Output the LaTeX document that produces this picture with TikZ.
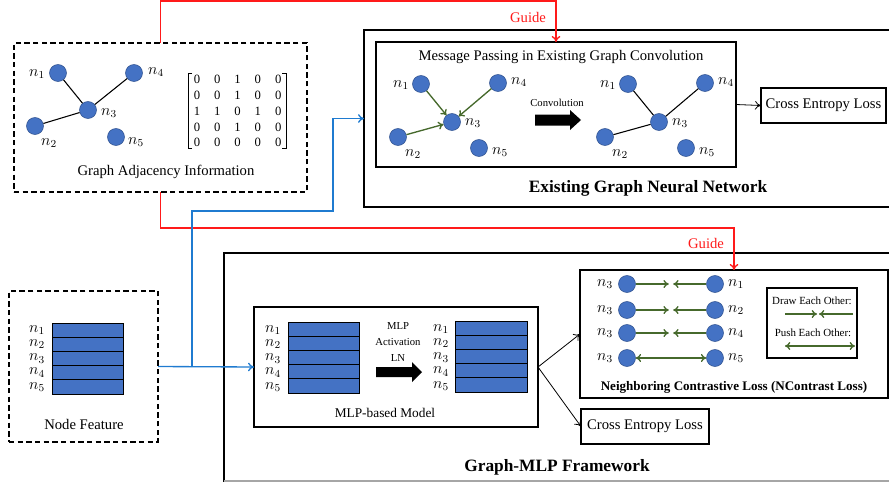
\documentclass[tikz,border=0pt]{standalone}
\usepackage{fontspec}
\setmainfont{Liberation Serif}
\usetikzlibrary{arrows.meta,calc}
\definecolor{nodeblue}{HTML}{4472C4}
\definecolor{nodeedge}{HTML}{2F528F}
\definecolor{dgreen}{HTML}{46692C}
\definecolor{lblue}{HTML}{1F7BD0}
\definecolor{gred}{HTML}{FF1A1A}
\begin{document}
\begin{tikzpicture}[x=0.75pt,y=-0.75pt,
  box/.style={draw, inner sep=0pt, outer sep=0pt, anchor=north west},
  gn/.style={circle, fill=nodeblue, draw=nodeedge, line width=0.4pt, minimum size=12.75pt, inner sep=0pt},
  lab/.style={font=\fontsize{11.5}{12}\selectfont, inner sep=0pt},
  txt/.style={font=\fontsize{11}{13}\selectfont, inner sep=0pt},
  small/.style={font=\fontsize{8}{9}\selectfont, inner sep=0pt, align=center},
  btitle/.style={font=\fontsize{13}{15}\selectfont\bfseries, inner sep=0pt},
  dig/.style={font=\fontsize{9.5}{10}\selectfont, inner sep=0pt},
  feat/.style={draw, fill=nodeblue, line width=0.6pt, inner sep=0pt, outer sep=0pt, anchor=north west, minimum width=71*0.75pt, minimum height=14.2*0.75pt},
  tip/.style={-{To[length=4.5pt,width=6.5pt]}},
  garrow/.style={draw=dgreen, line width=1pt, -{To[length=4pt,width=6pt]}},
  gdouble/.style={draw=dgreen, line width=1pt, {To[length=4pt,width=6pt]}-{To[length=4pt,width=6pt]}},
  dbox/.style={draw, dash pattern=on 4pt off 2.5pt, line width=1pt, inner sep=0pt, outer sep=0pt, anchor=north west}
]
\useasboundingbox (0,0) rectangle (889,482);

% ---------- Graph adjacency information ----------
\node[dbox, minimum width=293*0.75pt, minimum height=149*0.75pt] (adj) at (14,43) {};
\node[gn] (a1) at (58,73) {};
\node[gn] (a4) at (134,73) {};
\node[gn] (a3) at (88,110) {};
\node[gn] (a2) at (35,126) {};
\node[gn] (a5) at (116,137) {};
\draw[line width=0.8pt] (a1) -- (a3) (a4) -- (a3) (a2) -- (a3);
\node[lab] (la1) at (37,74) {$n_1$};
\node[lab] (la4) at (156,72) {$n_4$};
\node[lab] (la3) at (109,113) {$n_3$};
\node[lab] (la2) at (49,143) {$n_2$};
\node[lab] (la5) at (136,142) {$n_5$};
\foreach \r/\y/\row in {1/79/{0,0,1,0,0},2/95/{0,0,1,0,0},3/111/{1,1,0,1,0},4/127/{0,0,1,0,0},5/142/{0,0,0,0,0}}{
  \foreach \v [count=\c] in \row {
    \node[dig] (m\r\c) at ({197+(\c-1)*20.3},\y) {\v};
  }
}
\draw[line width=0.6pt] (192,73) -- (188,73) -- (188,148) -- (192,148);
\draw[line width=0.6pt] (282,73) -- (286,73) -- (286,148) -- (282,148);
\node[txt] (adjcap) at (166,172) {Graph Adjacency Information};

% ---------- Existing GNN ----------
\node[box, line width=1pt, minimum width=530*0.75pt, minimum height=177*0.75pt] (gnn) at (364,30) {};
\node[box, line width=0.8pt, minimum width=360*0.75pt, minimum height=125*0.75pt] (mp) at (376,42) {};
\node[txt] (mptitle) at (561,57) {Message Passing in Existing Graph Convolution};
\node[gn] (l1) at (421,84) {};
\node[gn] (l4) at (498,83) {};
\node[gn] (l3) at (452,122) {};
\node[gn] (l2) at (398,137) {};
\node[gn] (l5) at (479,148) {};
\draw[garrow] (l1) -- (l3);
\draw[garrow] (l4) -- (l3);
\draw[garrow] (l2) -- (l3);
\node[lab] (ll1) at (401,85) {$n_1$};
\node[lab] (ll4) at (519,82) {$n_4$};
\node[lab] (ll3) at (473,123) {$n_3$};
\node[lab] (ll2) at (413,154) {$n_2$};
\node[lab] (ll5) at (500,152) {$n_5$};
\node[small] (conv) at (557,103) {Convolution};
\fill (535,114.5) -- (570,114.5) -- (570,110) -- (581,120) -- (570,130) -- (570,125.5) -- (535,125.5) -- cycle;
\node[gn] (r1) at (628,84) {};
\node[gn] (r4) at (705,83) {};
\node[gn] (r3) at (659,122) {};
\node[gn] (r2) at (605,137) {};
\node[gn] (r5) at (686,148) {};
\draw[line width=0.8pt] (r1) -- (r3) (r4) -- (r3) (r2) -- (r3);
\node[lab] (lr1) at (608,85) {$n_1$};
\node[lab] (lr4) at (726,82) {$n_4$};
\node[lab] (lr3) at (680,123) {$n_3$};
\node[lab] (lr2) at (620,154) {$n_2$};
\node[lab] (lr5) at (707,152) {$n_5$};
\node[box, line width=0.8pt, minimum width=125*0.75pt, minimum height=35*0.75pt] (ce1) at (761,88) {};
\node[txt] (ce1t) at (ce1.center) {Cross Entropy Loss};
\draw[line width=0.6pt, tip] (mp.east) -- (ce1.west);
\node[btitle] (gnntitle) at (648,188) {Existing Graph Neural Network};

% ---------- Node feature ----------
\node[dbox, minimum width=149*0.75pt, minimum height=151*0.75pt] (nf) at (9,291) {};
\foreach \i in {1,...,5}{
  \node[feat] (f\i) at (52,{323+(\i-1)*14.2}) {};
  \node[lab] (fl\i) at (37,{330+(\i-1)*14.2}) {$n_\i$};
}
\node[txt] (nfcap) at (84,424) {Node Feature};

% ---------- Graph-MLP framework ----------
\node[box, line width=1pt, minimum width=670*0.75pt, minimum height=228*0.75pt] (gm) at (224,253) {};
\draw[gray!70, line width=1pt] (gm.south west) -- (gm.south east);
\node[box, line width=0.8pt, minimum width=284*0.75pt, minimum height=120*0.75pt] (mlp) at (254,307) {};
\foreach \i in {1,...,5}{
  \node[feat] (p\i) at (288,{322+(\i-1)*14.2}) {};
  \node[lab] (pl\i) at (273,{330+(\i-1)*14.2}) {$n_\i$};
  \node[feat, minimum width=72*0.75pt] (q\i) at (455,{321+(\i-1)*14.2}) {};
  \node[lab] (ql\i) at (441,{329+(\i-1)*14.2}) {$n_\i$};
}
\node[small, font=\fontsize{8}{12}\selectfont] (mlpops) at (398,342) {MLP\\Activation\\LN};
\fill (376,367) -- (412,367) -- (412,362) -- (422,372) -- (412,382) -- (412,377) -- (376,377) -- cycle;
\node[txt, font=\fontsize{10}{12}\selectfont] (mlpcap) at (385,413) {MLP-based Model};

% NContrast box
\node[box, line width=1pt, minimum width=308*0.75pt, minimum height=128*0.75pt] (nc) at (580,270) {};
\foreach \k/\y/\j in {1/284/1,2/310/2,3/333/4,4/358/5}{
  \node[gn] (cl\k) at (627,\y) {};
  \node[gn] (cr\k) at (715,\y) {};
  \node[lab] (cll\k) at (605,\y) {$n_3$};
  \node[lab] (crl\k) at (736,\y) {$n_\j$};
}
\foreach \k in {1,2,3}{
  \draw[garrow] (cl\k.east) -- ++(33,0);
  \draw[garrow] (cr\k.west) -- ++(-33,0);
}
\draw[gdouble] (cl4) -- (cr4);
\node[box, line width=0.8pt, minimum width=90*0.75pt, minimum height=70*0.75pt] (lg) at (767,288) {};
\node[small, font=\fontsize{8.2}{9}\selectfont] (lgd) at ($(lg.north)+(0,13)$) {Draw Each Other:};
\coordinate (dl) at ($(lg.north west)+(18,26)$);
\coordinate (dr) at ($(lg.north east)+(-4,26)$);
\draw[garrow] (dl) -- ++(32,0);
\draw[garrow] (dr) -- ++(-34,0);
\node[small, font=\fontsize{8.2}{9}\selectfont] (lgp) at ($(lg.north)+(1,45)$) {Push Each Other:};
\coordinate (pl) at ($(lg.north west)+(18,58)$);
\coordinate (pr) at ($(lg.north east)+(-2,58)$);
\draw[gdouble] (pl) -- (pr);
\node[font=\fontsize{9.8}{11}\selectfont\bfseries, inner sep=0pt] (nccap) at (734,387) {Neighboring Contrastive Loss (NContrast Loss)};

\node[box, line width=0.8pt, minimum width=128*0.75pt, minimum height=35*0.75pt] (ce2) at (581,409) {};
\node[txt] (ce2t) at (ce2.center) {Cross Entropy Loss};
\draw[line width=0.6pt, tip] (mlp.east) -- (nc.west);
\draw[line width=0.6pt, tip] (mlp.east) -- (ce2.west);
\node[btitle] (gmtitle) at (557,467) {Graph-MLP Framework};

% ---------- Connectors ----------
\draw[gred, line width=1pt, tip] (adj.north) -- (adj.north |- 0,1) -| (mp.north);
\node[txt, text=gred] (guide1) at (528,17) {Guide};
\draw[gred, line width=1pt, tip] (adj.south) -- (adj.south |- 0,228) -| (nc.north);
\node[txt, text=gred] (guide2) at (706,243) {Guide};

\draw[lblue, line width=1pt, tip] (nf.east) -- (mlp.west);
\coordinate (br) at (192,367);
\coordinate (bj) at (333,211);
\draw[lblue, line width=1pt, tip] (br) |- (bj) -- (bj |- gnn.west) -- (gnn.west);
\end{tikzpicture}
\end{document}
